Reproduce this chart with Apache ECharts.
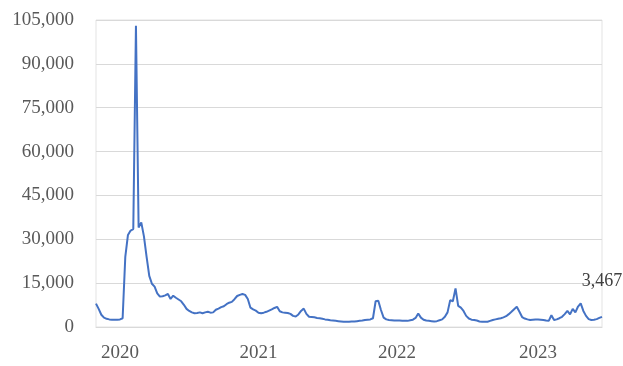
<!DOCTYPE html>
<html>
<head>
<meta charset="utf-8">
<script src="https://cdn.jsdelivr.net/npm/echarts@6/dist/echarts.min.js"></script>
<style>
  html, body { margin: 0; padding: 0; background: #fff; }
  #chart { width: 623px; height: 366px; }
</style>
</head>
<body>
<div id="chart"></div>
<script>
// weekly values, Nov 2019 - Jun 2023
const weeklyValues = [
  8000, 6200, 4200, 3200, 2800, 2600, 2500, 2500, 2500, 2600,
  3000, 24000, 31500, 33000, 33500, 103000, 34000, 35800, 31000, 24000,
  17500, 14800, 13800, 11500, 10400, 10500, 10800, 11300, 9600, 10700,
  10000, 9400, 8800, 7600, 6200, 5500, 5000, 4700, 4800, 5000,
  4700, 5000, 5200, 4900, 5000, 5900, 6300, 6800, 7100, 7800,
  8300, 8600, 9500, 10600, 11000, 11300, 11000, 9600, 6600, 6000,
  5600, 4900, 4700, 4900, 5200, 5600, 6000, 6500, 6900, 5400,
  5000, 4900, 4800, 4500, 3800, 3600, 4300, 5500, 6300, 4500,
  3500, 3400, 3300, 3100, 3000, 2800, 2600, 2500, 2300, 2200,
  2100, 2000, 1900, 1800, 1800, 1800, 1900, 1900, 2000, 2100,
  2200, 2400, 2500, 2600, 3000, 8800, 9000, 5800, 3200, 2600,
  2400, 2300, 2200, 2200, 2200, 2100, 2100, 2100, 2300, 2500,
  3100, 4600, 3200, 2500, 2200, 2100, 2000, 1900, 2000, 2300,
  2600, 3500, 5000, 9200, 8800, 13200, 7200, 6600, 5500, 3800,
  2900, 2500, 2400, 2200, 1900, 1800, 1800, 1800, 2100, 2400,
  2600, 2800, 3000, 3300, 3700, 4400, 5200, 6100, 6900, 5200,
  3400, 2900, 2600, 2400, 2500, 2600, 2600, 2500, 2400, 2200,
  2100, 4000, 2400, 2600, 3000, 3500, 4400, 5500, 4300, 6200,
  5000, 7000, 8100, 5500, 3800, 2700, 2400, 2500, 2700, 3100,
  3467
]
// where the year labels sit (week index)
const yearTicks = { 9: '2020', 61: '2021', 113: '2022', 166: '2023' }
const yTicks = [0, 15000, 30000, 45000, 60000, 75000, 90000, 105000]

const categories = weeklyValues.map((v, i) => i)
const lastIndex = weeklyValues.length - 1
const fontFamily = '"Liberation Serif", "DejaVu Serif", serif'

const chart = echarts.init(document.getElementById('chart'))
chart.setOption({
  animation: false,
  grid: {
    left: 96,
    right: 21,
    top: 20,
    bottom: 39,
    show: true,
    borderColor: '#e3e3e3',
    borderWidth: 1
  },
  xAxis: {
    type: 'category',
    data: categories,
    boundaryGap: false,
    axisLine: { lineStyle: { color: '#d9d9d9' } },
    axisTick: { show: false },
    axisLabel: {
      interval: (index) => yearTicks[index] !== undefined,
      formatter: (value, index) => yearTicks[index] || '',
      color: '#595959',
      fontFamily,
      fontSize: 19,
      margin: 17
    },
    splitLine: { show: false }
  },
  yAxis: {
    type: 'value',
    min: yTicks[0],
    max: yTicks[yTicks.length - 1],
    interval: 15000,
    axisLine: { show: false },
    axisTick: { show: false },
    axisLabel: {
      color: '#595959',
      fontFamily,
      fontSize: 19,
      margin: 22,
      formatter: (v) => v.toLocaleString('en-US')
    },
    splitLine: { lineStyle: { color: '#d9d9d9', width: 1 } }
  },
  series: [{
    type: 'line',
    data: weeklyValues,
    showSymbol: false,
    symbol: 'none',
    lineStyle: { color: '#4472c4', width: 2 },
    markPoint: {
      symbol: 'circle',
      symbolSize: 1,
      itemStyle: { color: 'rgba(0,0,0,0)' },
      label: {
        show: true,
        position: 'top',
        distance: 26,
        color: '#404040',
        fontFamily,
        fontSize: 18,
        formatter: weeklyValues[lastIndex].toLocaleString('en-US')
      },
      data: [{ coord: [lastIndex, weeklyValues[lastIndex]] }]
    }
  }]
})
</script>
</body>
</html>
